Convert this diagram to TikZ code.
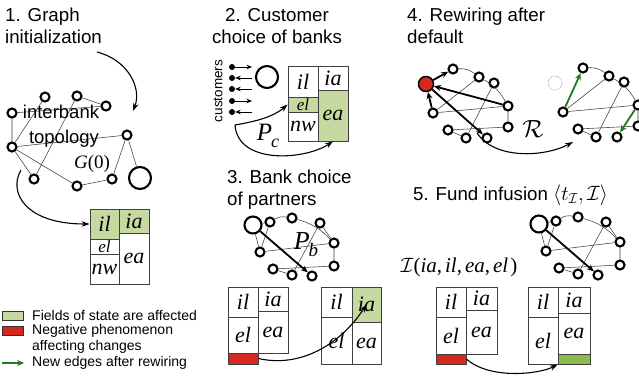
\documentclass[tikz,border=0pt]{standalone}
\usepackage{fontspec}
\setmainfont{Liberation Sans}
\newfontfamily\tms{Liberation Serif}
\usetikzlibrary{arrows.meta}
\definecolor{lgreen}{HTML}{C6D9A0}
\definecolor{bargreen}{HTML}{8CB950}
\definecolor{rred}{HTML}{D7281E}
\definecolor{dgreen}{HTML}{1F7A23}
\newcommand\netA[2]{%
\begin{scope}[shift={#2}]
\node[bank,minimum size=17pt] (#1B) at (253,225) {};
\node[bank] (#1n1) at (270,222) {};
\node[bank] (#1n2) at (292,218) {};
\node[bank] (#1n3) at (320,223) {};
\node[bank] (#1n4) at (260,252) {};
\node[bank] (#1n5) at (334,243) {};
\node[bank] (#1n6) at (273,269) {};
\node[bank] (#1n7) at (292,275) {};
\node[bank] (#1n8) at (312,276) {};
\node[bank] (#1n9) at (334,266) {};
\draw[ln] (#1B)--(#1n1) (#1B)--(#1n4) (#1n1)--(#1n4) (#1n4)--(#1n5) (#1n3)--(#1n7)
  (#1n3)--(#1n5) (#1n5)--(#1n9) (#1n6)--(#1n7) (#1n6)--(#1n9);
\draw[ln] (#1n1) to[bend left=20] (#1n2);
\draw[ln] (#1n2) to[bend left=15] (#1n5);
\draw[thickarr] (#1B) -- (#1n8);
\end{scope}}
\newcommand\netB[2]{%
\begin{scope}[shift={#2}]
\node[bank] (#1m1) at (453,69) {};
\node[bank] (#1m2) at (479,77) {};
\node[bank] (#1m3) at (494,83) {};
\node[bank] (#1m4) at (433,113) {};
\node[bank] (#1m5) at (508,106) {};
\node[bank] (#1m6) at (448,130) {};
\node[bank] (#1m7) at (466,138) {};
\node[bank] (#1m8) at (487,138) {};
\node[bank] (#1m9) at (508,127) {};
\draw[ln] (#1m2)--(#1m4) (#1m4)--(#1m5) (#1m3)--(#1m7) (#1m5)--(#1m9)
  (#1m6)--(#1m7) (#1m6)--(#1m9);
\draw[ln] (#1m1) to[bend left=20] (#1m2);
\draw[ln] (#1m2) to[bend left=15] (#1m5);
\end{scope}}
\begin{document}
\begin{tikzpicture}[x=1pt,y=-1pt,
  bank/.style={circle,draw,line width=2.1pt,minimum size=9pt,inner sep=0pt,fill=white},
  ln/.style={line width=0.55pt,black!75},
  thickarr/.style={line width=1.8pt,-{Stealth[length=7pt,width=6pt]}},
  garr/.style={thickarr,dgreen},
  flow/.style={line width=1.1pt,-{Stealth[length=8pt,width=5.5pt]}},
  cellbox/.style={draw=black!75,line width=0.8pt,rectangle,inner sep=0pt,
     font=\fontsize{22}{22}\selectfont\tms\itshape},
  smallcell/.style={font=\fontsize{17}{17}\selectfont\tms\itshape},
  title/.style={font=\fontsize{18.7}{22}\selectfont,inner sep=0pt},
  graphtext/.style={font=\fontsize{18.5}{20}\selectfont,inner sep=0pt},
  legtext/.style={font=\fontsize{14}{16}\selectfont,anchor=west,inner sep=0pt},
  dot/.style={circle,fill=black,minimum size=6pt,inner sep=0pt},
  custarr/.style={line width=0.8pt,-{Stealth[length=5.5pt,width=4.5pt]}},
]
\clip (0,0) rectangle (639,378);
\fill[white] (0,0) rectangle (639,378);

% ---------- titles
\node[title,anchor=base west] (t1a) at (5,21) {1. Graph};
\node[title,anchor=base west] (t1b) at (5,43) {initialization};
\node[title,anchor=base] (t2a) at (277,21) {2. Customer};
\node[title,anchor=base] (t2b) at (277,43) {choice of banks};
\node[title,anchor=base west] (t3a) at (227,183) {3. Bank choice};
\node[title,anchor=base west] (t3b) at (227,205) {of partners};
\node[title,anchor=base west] (t4a) at (407,21) {4. Rewiring after};
\node[title,anchor=base west] (t4b) at (407,43) {default};
\node[title,anchor=base west] (t5) at (413,200) {5. Fund infusion \fontsize{21}{22}\selectfont$\langle t_{\mathcal{I}},\mathcal{I}\rangle$};

% ---------- panel 1 graph
\node[bank] (a1) at (45,97) {};
\node[bank] (b1) at (77,96) {};
\node[bank] (c1) at (106,106) {};
\node[bank] (d1) at (12,113) {};
\node[bank] (e1) at (127,135) {};
\node[bank] (f1) at (12,147) {};
\node[bank] (g1) at (34,179) {};
\node[bank] (h1) at (77,186) {};
\node[bank] (i1) at (112,179) {};
\node[bank,minimum size=22pt] (j1) at (140,178) {};
\draw[ln] (d1)--(c1) (a1)--(f1) (b1)--(g1) (b1)--(c1) (d1)--(f1) (f1)--(e1)
  (f1)--(g1) (f1)--(h1) (h1)--(i1) (i1)--(e1) (e1)--(j1);
\node[graphtext] (tinter) at (61,112) {interbank};
\node[graphtext] (ttopo) at (64,139) {topology};
\node[font=\fontsize{19}{20}\selectfont\tms,inner sep=0pt] (tg0) at (92,164) {\textit{G}(0)};

\coordinate (fa1) at (97,52);
\coordinate (fe1) at (133,111);
\coordinate (fb1) at (21,170);
\draw[flow] (fa1) .. controls (128,60) and (142,88) .. (fe1);

% ---------- panel 1 box
\node[cellbox,minimum width=29pt,minimum height=30pt,fill=lgreen] (c1il) at (104.5,224) {il};
\node[cellbox,minimum width=30pt,minimum height=24pt,fill=lgreen] (c1ia) at (134,221) {ia};
\node[cellbox,smallcell,minimum width=29pt,minimum height=15pt] (c1el) at (104.5,246.5) {el};
\node[cellbox,minimum width=29pt,minimum height=30pt] (c1nw) at (104.5,269) {nw};
\node[cellbox,minimum width=30pt,minimum height=51pt] (c1ea) at (134,258.5) {ea};
\draw[flow] (fb1) .. controls (8,192) and (25,224) .. (c1il.west);

% ---------- panel 2
\node[rotate=90,font=\fontsize{13.5}{14}\selectfont,inner sep=0pt] (tcust) at (218,91) {customers};
\foreach \k/\yy in {1/67,2/78,3/89,4/101,5/112}{
  \node[dot] (cu\k) at (232,\yy) {};
  \coordinate (ce\k) at (252,\yy);
}
\draw[custarr] (cu1)--(ce1);
\draw[custarr] (ce2)--(cu2);
\draw[custarr] (ce3)--(cu3);
\draw[custarr] (cu4)--(ce4);
\draw[custarr] (ce5)--(cu5);
\node[bank,minimum size=22pt] (j2) at (267,77) {};
\node[cellbox,minimum width=30pt,minimum height=31pt] (c2il) at (303,81.5) {il};
\node[cellbox,smallcell,minimum width=30pt,minimum height=15pt,fill=lgreen] (c2el) at (303,104.5) {el};
\node[cellbox,minimum width=30pt,minimum height=29pt] (c2nw) at (303,126.5) {nw};
\node[cellbox,minimum width=30pt,minimum height=24pt] (c2ia) at (333,78) {ia};
\node[cellbox,minimum width=30pt,minimum height=51pt,fill=lgreen] (c2ea) at (333,115.5) {ea};
\coordinate (pc0) at (235,125);
\draw[flow] (pc0) .. controls (252,122) and (272,118) .. (c2el.west);
\draw[flow] (pc0) .. controls (238,165) and (305,160) .. (c2ea.south);
\node[inner sep=0pt] (tpc) at (268,136) {\fontsize{25}{25}\selectfont\tms\itshape P\kern-1pt\raisebox{-7pt}{\fontsize{18}{18}\selectfont c}};

% ---------- panel 3
\netA{g3}{(0,0)}
\node[inner sep=0pt,fill=none] (tpb) at (306,245) {\fontsize{26}{26}\selectfont\tms\itshape P\kern-1pt\raisebox{-7pt}{\fontsize{19}{19}\selectfont b}};
\node[cellbox,minimum width=30pt,minimum height=30pt] (c3il) at (243,302) {il};
\node[cellbox,minimum width=30pt,minimum height=36pt] (c3el) at (243,335) {el};
\node[cellbox,minimum width=30pt,minimum height=11pt,fill=rred] (c3red) at (243,358.5) {};
\node[cellbox,minimum width=30pt,minimum height=24pt] (c3ia) at (273,299) {ia};
\node[cellbox,minimum width=30pt,minimum height=42pt] (c3ea) at (273,332) {ea};
\node[cellbox,minimum width=31pt,minimum height=30pt] (d3il) at (336.5,302) {il};
\node[cellbox,minimum width=31pt,minimum height=47pt] (d3el) at (336.5,340.5) {el};
\node[cellbox,minimum width=29pt,minimum height=35pt,fill=lgreen] (d3ia) at (366.5,304.5) {ia};
\node[cellbox,minimum width=29pt,minimum height=42pt] (d3ea) at (366.5,343) {ea};
\draw[flow] (c3red.east) .. controls (300,368) and (340,345) .. (d3ia.center);

% ---------- panel 4
\netB{l}{(0,0)}
\node[bank,minimum size=15pt,line width=1.5pt,fill=rred] (red4) at (426,84) {};
\draw[thickarr] (red4)--(lm1);
\draw[thickarr] (lm4)--(red4);
\draw[thickarr] (lm5)--(red4);
\draw[thickarr] (red4)--(lm8);
\netB{r}{(130,-1)}
\node[circle,draw=black!45,densely dotted,line width=0.6pt,minimum size=14pt,inner sep=0pt] (ghost) at (555,83) {};
\draw[garr] (rm4)--(rm1);
\draw[garr] (rm5)--(rm8);
\node[inner sep=0pt] (tr) at (533,129) {\fontsize{27}{27}\selectfont$\mathcal{R}$};
\coordinate (ra) at (477,133);
\coordinate (rb) at (573,142);
\draw[flow] (ra) .. controls (495,160) and (545,157) .. (rb);

% ---------- panel 5
\netA{g5}{(286,-1)}
\node[inner sep=0pt,font=\fontsize{21}{22}\selectfont\tms] (tfi) at (459,267) {$\mathcal{I}$(\textit{ia},\kern3pt\textit{il},\kern3pt\textit{ea},\kern3pt\textit{el}\kern2pt)};
\node[cellbox,minimum width=30pt,minimum height=30pt] (c5il) at (451,302) {il};
\node[cellbox,minimum width=30pt,minimum height=37pt] (c5el) at (451,335.5) {el};
\node[cellbox,minimum width=30pt,minimum height=10pt,fill=rred] (c5red) at (451,359) {};
\node[cellbox,minimum width=31pt,minimum height=23pt] (c5ia) at (481.5,298.5) {ia};
\node[cellbox,minimum width=31pt,minimum height=44pt] (c5ea) at (481.5,332) {ea};
\node[cellbox,minimum width=30pt,minimum height=30pt] (d5il) at (543,302) {il};
\node[cellbox,minimum width=30pt,minimum height=47pt] (d5el) at (543,340.5) {el};
\node[cellbox,minimum width=32pt,minimum height=26pt] (d5ia) at (574,300) {ia};
\node[cellbox,minimum width=32pt,minimum height=41pt] (d5ea) at (574,333.5) {ea};
\node[cellbox,minimum width=32pt,minimum height=10pt,fill=bargreen] (d5bar) at (574,359) {};
\draw[flow] (c5red.east) .. controls (490,380) and (540,374) .. (d5bar.south west);

% ---------- legend
\node[draw=black!80,line width=0.8pt,fill=lgreen,minimum width=21pt,minimum height=9pt,inner sep=0pt] (lg1) at (12.5,315.5) {};
\node[legtext] (lt1) at (32,315) {Fields of state are affected};
\node[draw=black!80,line width=0.8pt,fill=rred,minimum width=21pt,minimum height=9pt,inner sep=0pt] (lg2) at (12.5,331) {};
\node[legtext] (lt2) at (32,331) {Negative phenomenon};
\node[legtext] (lt3) at (32,347) {affecting changes};
\coordinate (lga) at (2,363);
\coordinate (lgb) at (24,363);
\draw[line width=1.6pt,dgreen,-{Stealth[length=7pt,width=6pt]}] (lga)--(lgb);
\node[legtext] (lt4) at (32,363) {New edges after rewiring};
\end{tikzpicture}
\end{document}
